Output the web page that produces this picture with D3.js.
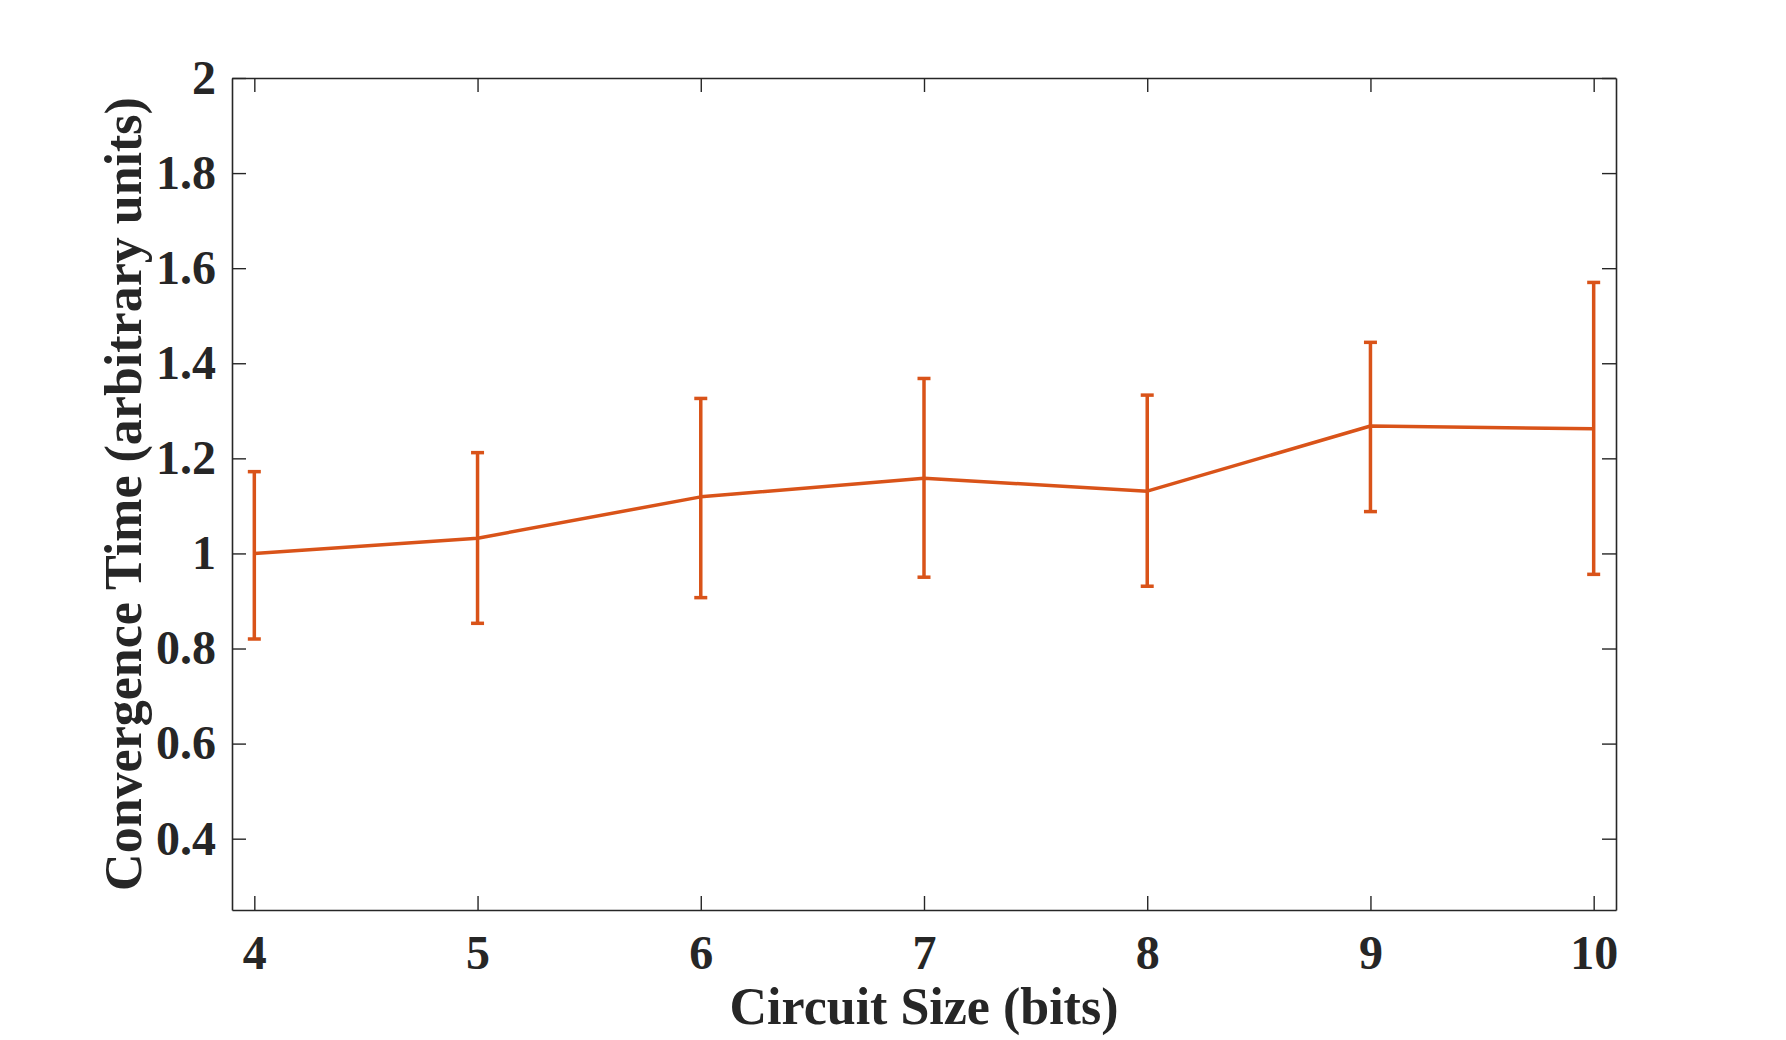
<!DOCTYPE html>
<html>
<head>
<meta charset="utf-8">
<script src="https://cdn.jsdelivr.net/npm/d3@7"></script>
<style>
  body { margin: 0; background: #ffffff; }
  svg { display: block; }
</style>
</head>
<body>
<svg id="chart" width="1786" height="1040"></svg>
<script>
// Values
let circuitSizes = [4, 5, 6, 7, 8, 9, 10];
let meanTime = [1.000, 1.032, 1.119, 1.158, 1.131, 1.268, 1.262];
let upperTime = [1.172, 1.212, 1.326, 1.368, 1.333, 1.444, 1.570];
let lowerTime = [0.820, 0.853, 0.907, 0.950, 0.931, 1.088, 0.956];
let yTickValues = [0.4, 0.6, 0.8, 1, 1.2, 1.4, 1.6, 1.8, 2];

// Generates the error bar chart
function errorChart(selector) {

    // Defining values
    let margin = {
        top: 78,
        left: 232,
        right: 170,
        bottom: 130
      },
      width = 1786 - margin.left - margin.right,
      height = 1040 - margin.top - margin.bottom;

    let axisColor = "#262626";
    let lineColor = "#D95319";
    let font = "'Liberation Serif', 'Times New Roman', serif";

    let svg = d3.select(selector);
    let g = svg.append("g")
        .attr("transform", "translate(" + margin.left + "," + margin.top + ")");

    // Scales
    let x = d3.scaleLinear().domain([3.9, 10.1]).range([0, width]);
    let y = d3.scaleLinear().domain([0.25, 2]).range([height, 0]);

    let fmt = d => String(+d.toFixed(1));

    // Bottom axis with labels, ticks pointing inward
    let xAxis = g.append("g")
        .attr("transform", "translate(0," + height + ")")
        .call(d3.axisBottom(x).tickValues(circuitSizes).tickFormat(fmt)
            .tickSizeInner(-14).tickSizeOuter(0).tickPadding(25));

    // Left axis with labels
    let yAxis = g.append("g")
        .call(d3.axisLeft(y).tickValues(yTickValues).tickFormat(fmt)
            .tickSizeInner(-14).tickSizeOuter(0).tickPadding(16));

    // Mirrored ticks on top and right
    let xTop = g.append("g")
        .call(d3.axisTop(x).tickValues(circuitSizes).tickFormat("")
            .tickSizeInner(-14).tickSizeOuter(0));
    let yRight = g.append("g")
        .attr("transform", "translate(" + width + ",0)")
        .call(d3.axisRight(y).tickValues(yTickValues).tickFormat("")
            .tickSizeInner(-14).tickSizeOuter(0));

    [xAxis, yAxis, xTop, yRight].forEach(function(a) {
        a.selectAll("path").attr("stroke", axisColor).attr("stroke-width", 1.6);
        a.selectAll("line").attr("stroke", axisColor).attr("stroke-width", 1.4);
        a.selectAll("text")
            .attr("fill", axisColor)
            .style("font-family", font)
            .style("font-weight", "bold")
            .style("font-size", "48px");
    });

    // Error bars
    let bars = g.append("g").selectAll("g")
        .data(circuitSizes)
        .enter()
        .append("g");

    bars.append("line")
        .attr("x1", d => x(d))
        .attr("x2", d => x(d))
        .attr("y1", (d, i) => y(upperTime[i]))
        .attr("y2", (d, i) => y(lowerTime[i]))
        .attr("stroke", lineColor)
        .attr("stroke-width", 3.5);

    bars.append("line")
        .attr("x1", d => x(d) - 6.5)
        .attr("x2", d => x(d) + 6.5)
        .attr("y1", (d, i) => y(upperTime[i]))
        .attr("y2", (d, i) => y(upperTime[i]))
        .attr("stroke", lineColor)
        .attr("stroke-width", 3.5);

    bars.append("line")
        .attr("x1", d => x(d) - 6.5)
        .attr("x2", d => x(d) + 6.5)
        .attr("y1", (d, i) => y(lowerTime[i]))
        .attr("y2", (d, i) => y(lowerTime[i]))
        .attr("stroke", lineColor)
        .attr("stroke-width", 3.5);

    // Mean line
    let line = d3.line()
        .x(d => x(d))
        .y((d, i) => y(meanTime[i]));

    g.append("path")
        .datum(circuitSizes)
        .attr("d", line)
        .attr("fill", "none")
        .attr("stroke", lineColor)
        .attr("stroke-width", 3.5)
        .attr("stroke-linejoin", "round");

    // Axis titles
    svg.append("text")
        .attr("x", margin.left + width / 2)
        .attr("y", 1024)
        .attr("text-anchor", "middle")
        .attr("fill", axisColor)
        .style("font-family", font)
        .style("font-weight", "bold")
        .style("font-size", "52px")
        .text("Circuit Size (bits)");

    svg.append("text")
        .attr("transform", "translate(141," + (margin.top + height / 2) + ") rotate(-90)")
        .attr("text-anchor", "middle")
        .attr("fill", axisColor)
        .style("font-family", font)
        .style("font-weight", "bold")
        .style("font-size", "52px")
        .text("Convergence Time (arbitrary units)");
}

errorChart("#chart");
</script>
</body>
</html>
